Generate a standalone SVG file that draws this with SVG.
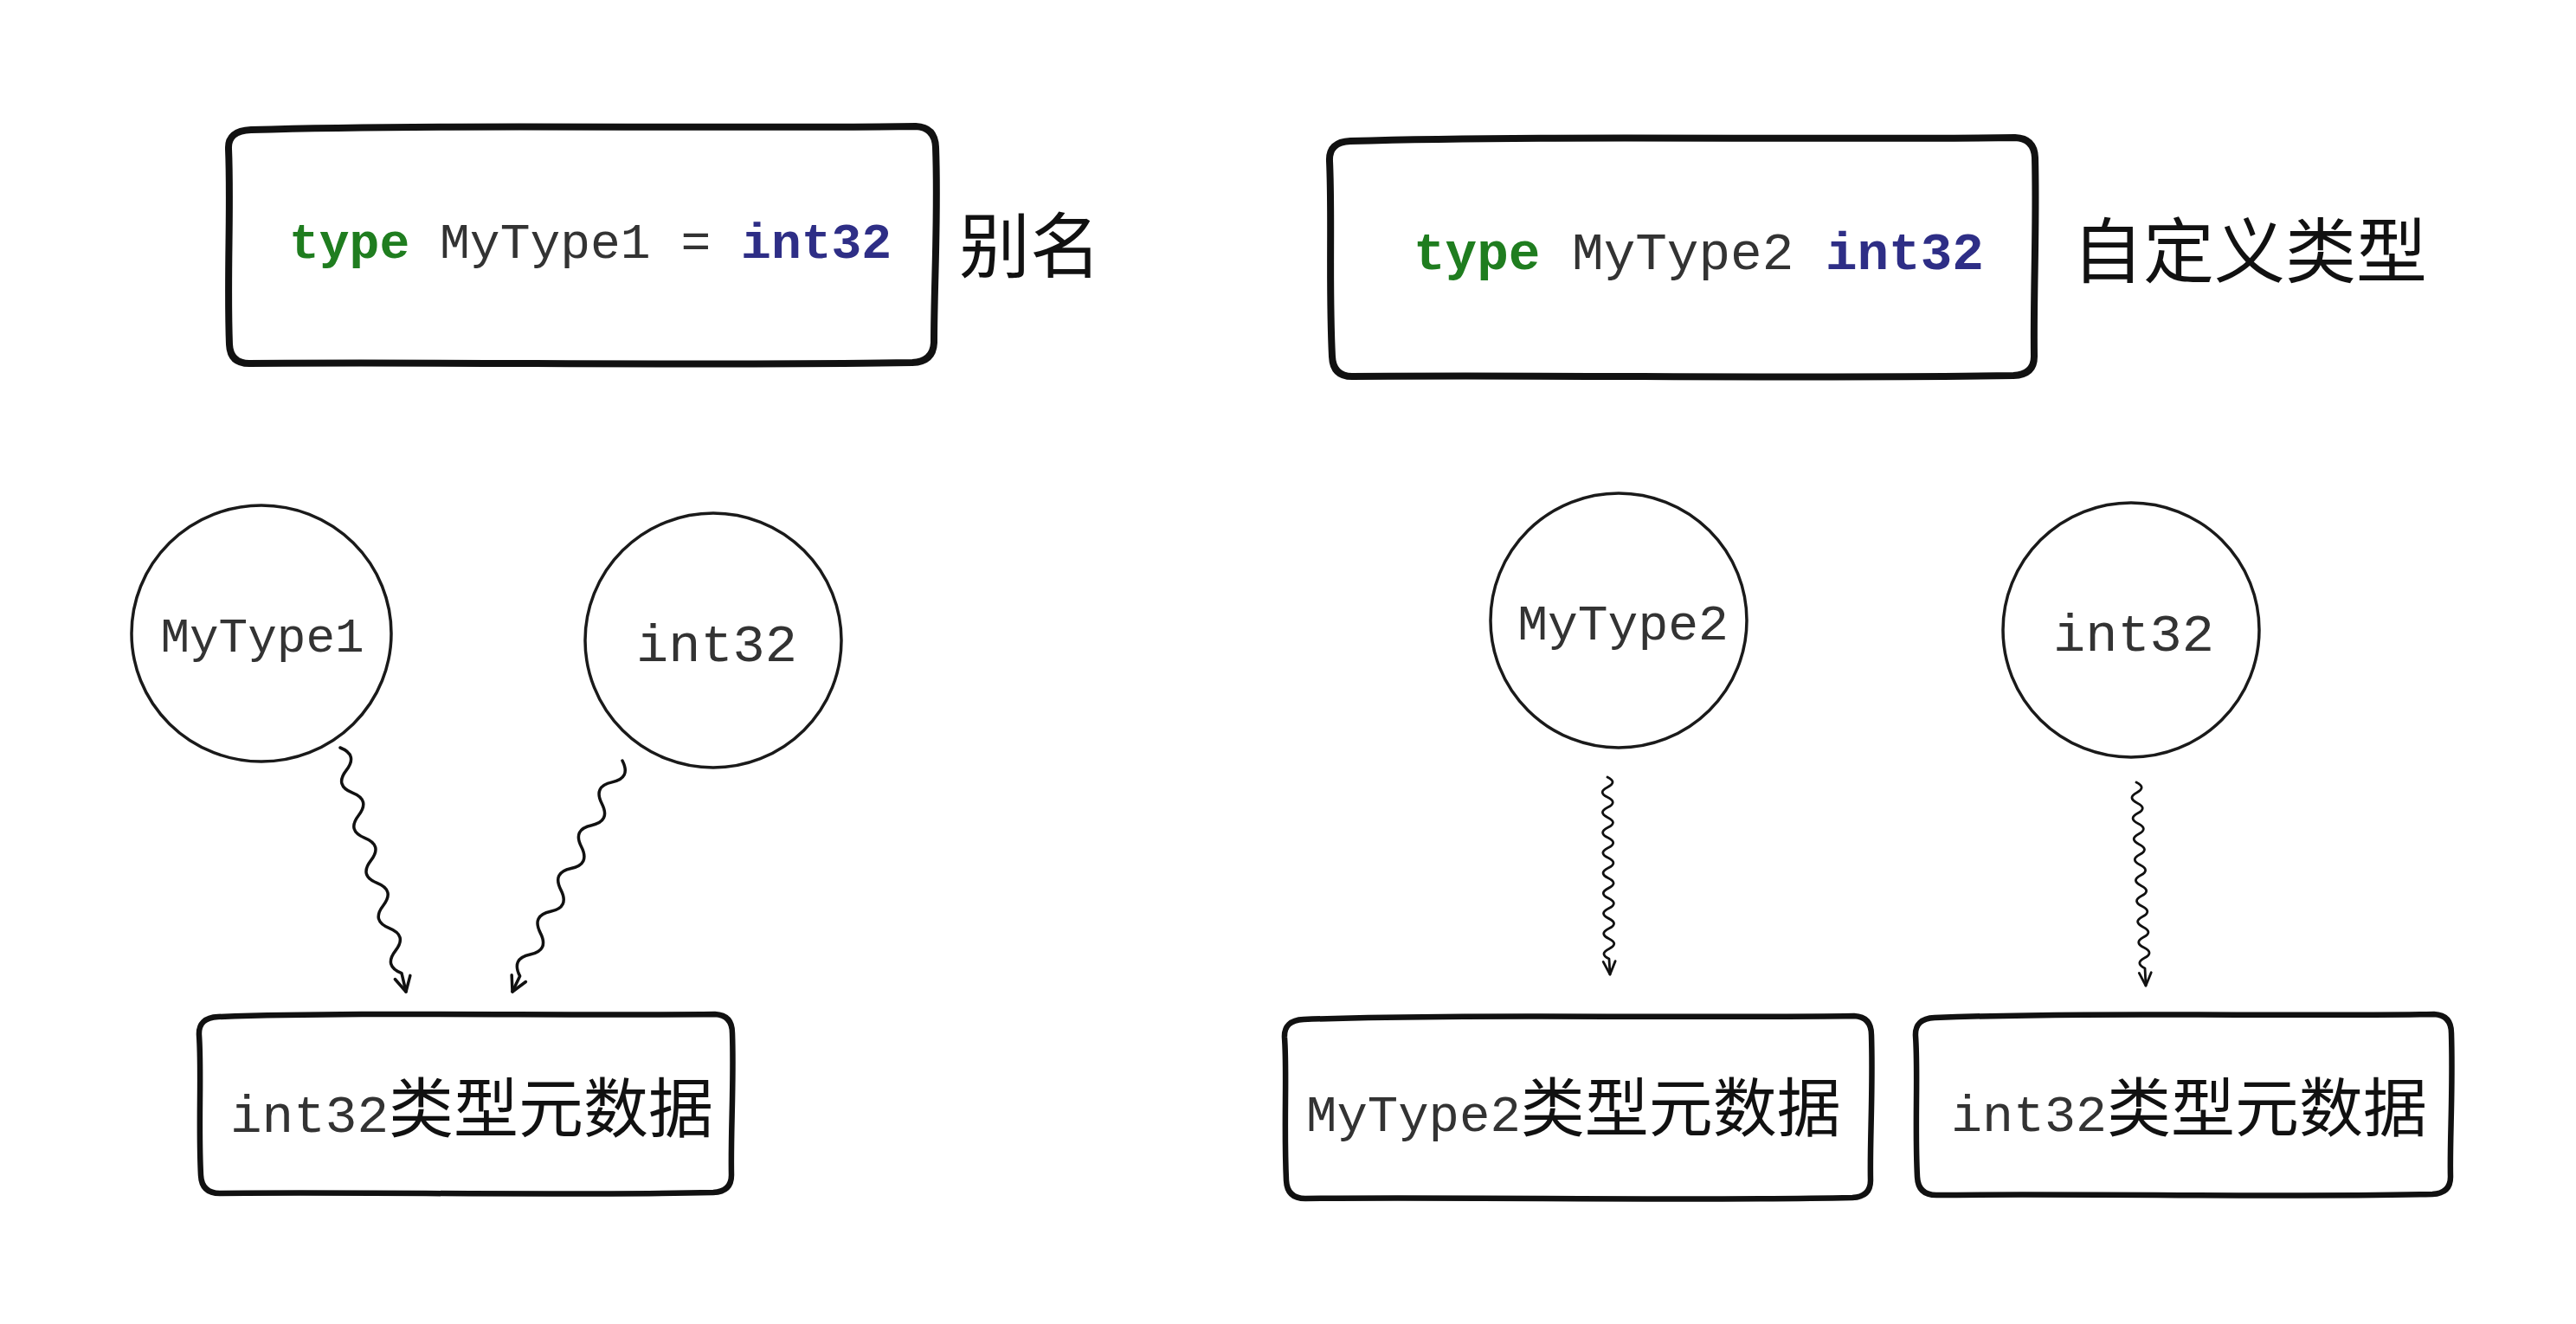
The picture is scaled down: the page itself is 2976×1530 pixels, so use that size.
<svg xmlns="http://www.w3.org/2000/svg" width="2976" height="1530" viewBox="0 0 2976 1530">
<style>
.box{fill:#fff;stroke:#111;stroke-width:8;stroke-linejoin:round;stroke-linecap:round}
.sbox{fill:#fff;stroke:#111;stroke-width:6.5;stroke-linejoin:round;stroke-linecap:round}
.circ{fill:#fff;stroke:#1a1a1a;stroke-width:3.5}
.mono{font-family:"Liberation Mono","DejaVu Sans Mono",monospace;fill:#333}
.kw{font-weight:bold;fill:#1f7d1f}
.ty{font-weight:bold;fill:#2e2e86}
.cjk{font-family:"Noto Sans CJK SC","Noto Sans",sans-serif;fill:#111}
.wave{fill:none;stroke:#111;stroke-linecap:round;stroke-linejoin:round}
</style>
<defs>
<marker id="ah" markerUnits="userSpaceOnUse" markerWidth="40" markerHeight="40" refX="0" refY="0" viewBox="-20 -20 40 40" orient="auto">
<path d="M-17,-9 L0,0 L-17,9" fill="none" stroke="#111" stroke-width="3.5" stroke-linecap="round" stroke-linejoin="round"/>
</marker>
<marker id="ah2" markerUnits="userSpaceOnUse" markerWidth="40" markerHeight="40" refX="0" refY="0" viewBox="-20 -20 40 40" orient="auto">
<path d="M-15,-7 L0,0 L-15,7" fill="none" stroke="#111" stroke-width="2.8" stroke-linecap="round" stroke-linejoin="round"/>
</marker>
</defs>
<rect width="2976" height="1530" fill="#fff"/>

<g id="alias-def">
<path class="box" d="M290,150 C520,143 820,149 1058,146 Q1080,147 1081,170 C1084,250 1079,330 1079,396 Q1078,418 1054,419 C820,423 520,418 288,420 Q266,420 265,398 C262,320 267,240 264,172 Q263,151 290,150 Z"/>
<text class="mono" x="334" y="298" font-size="58"><tspan class="kw">type</tspan> MyType1 = <tspan class="ty">int32</tspan></text>
</g>
<g id="alias-label">
<text class="cjk" x="1108" y="314" font-size="82">别名</text>
</g>

<g id="custom-def">
<path class="box" d="M1560,163 C1800,156 2100,162 2328,159 Q2350,160 2351,182 C2353,260 2349,340 2350,412 Q2350,433 2326,434 C2100,438 1800,433 1562,435 Q1540,435 1539,412 C1535,330 1539,250 1536,186 Q1535,164 1560,163 Z"/>
<text class="mono" x="1633" y="311" font-size="61"><tspan class="kw">type</tspan> MyType2 <tspan class="ty">int32</tspan></text>
</g>
<g id="custom-label">
<text class="cjk" x="2394" y="320" font-size="82">自定义类型</text>
</g>

<g id="c-mytype1">
<ellipse class="circ" cx="302" cy="732" rx="150" ry="148"/>
<text class="mono" x="303" y="753" font-size="56" text-anchor="middle">MyType1</text>
</g>
<g id="c-int32-left">
<ellipse class="circ" cx="824" cy="740" rx="148" ry="147"/>
<text class="mono" x="828" y="764" font-size="62" text-anchor="middle">int32</text>
</g>
<g id="c-mytype2">
<ellipse class="circ" cx="1870" cy="717" rx="148" ry="147"/>
<text class="mono" x="1875" y="739" font-size="58" text-anchor="middle">MyType2</text>
</g>
<g id="c-int32-right">
<ellipse class="circ" cx="2462" cy="728" rx="148" ry="147"/>
<text class="mono" x="2465" y="752" font-size="62" text-anchor="middle">int32</text>
</g>

<g id="meta-int32-left">
<path class="sbox" d="M252,1175 C420,1169 640,1174 826,1172 Q846,1173 846,1194 C848,1250 844,1310 845,1358 Q845,1377 824,1378 C640,1382 420,1377 254,1379 Q233,1379 232,1358 C229,1300 233,1240 230,1196 Q229,1176 252,1175 Z"/>
<text x="266" y="1308"><tspan class="mono" font-size="61">int32</tspan><tspan class="cjk" font-size="75">类型元数据</tspan></text>
</g>
<g id="meta-mytype2">
<path class="sbox" d="M1506,1178 C1700,1171 1950,1177 2142,1174 Q2162,1175 2162,1196 C2164,1260 2160,1320 2161,1364 Q2161,1383 2140,1384 C1950,1388 1700,1383 1508,1385 Q1487,1385 1486,1364 C1483,1300 1487,1240 1484,1199 Q1483,1179 1506,1178 Z"/>
<text x="1509" y="1307"><tspan class="mono" font-size="59">MyType2</tspan><tspan class="cjk" font-size="74">类型元数据</tspan></text>
</g>
<g id="meta-int32-right">
<path class="sbox" d="M2235,1176 C2420,1169 2640,1175 2812,1172 Q2832,1173 2832,1194 C2834,1260 2830,1320 2831,1360 Q2831,1379 2810,1380 C2640,1384 2420,1379 2237,1381 Q2216,1381 2215,1360 C2212,1300 2216,1240 2213,1197 Q2212,1177 2235,1176 Z"/>
<text x="2254" y="1307"><tspan class="mono" font-size="60">int32</tspan><tspan class="cjk" font-size="74">类型元数据</tspan></text>
</g>

<g id="connectors">
<path class="wave" stroke-width="3.5" marker-end="url(#ah)" d="M393,864 q20.9,8.3 7.1,26.07 t7.1,26.07 t7.1,26.07 t7.1,26.07 t7.1,26.07 t7.1,26.07 t7.1,26.07 t7.1,26.07 t7.1,26.07 t7.1,26.07 L469,1146"/>
<path class="wave" stroke-width="3.5" marker-end="url(#ah)" d="M719,879 q10.3,20.2 -11.84,24.89 t-11.84,24.89 t-11.84,24.89 t-11.84,24.89 t-11.84,24.89 t-11.84,24.89 t-11.84,24.89 t-11.84,24.89 t-11.84,24.89 t-11.84,24.89 L592,1146"/>
<path class="wave" stroke-width="2.8" marker-end="url(#ah2)" d="M1857,898 q12,5.83 0.11,11.67 t0.11,11.67 t0.11,11.67 t0.11,11.67 t0.11,11.67 t0.11,11.67 t0.11,11.67 t0.11,11.67 t0.11,11.67 t0.11,11.67 t0.11,11.67 t0.11,11.67 t0.11,11.67 t0.11,11.67 t0.11,11.67 t0.11,11.67 t0.11,11.67 t0.11,11.67 L1860,1126"/>
<path class="wave" stroke-width="2.8" marker-end="url(#ah2)" d="M2468,904 q12,5.97 0.556,11.94 t0.556,11.94 t0.556,11.94 t0.556,11.94 t0.556,11.94 t0.556,11.94 t0.556,11.94 t0.556,11.94 t0.556,11.94 t0.556,11.94 t0.556,11.94 t0.556,11.94 t0.556,11.94 t0.556,11.94 t0.556,11.94 t0.556,11.94 t0.556,11.94 t0.556,11.94 L2479,1139"/>
</g>
</svg>
